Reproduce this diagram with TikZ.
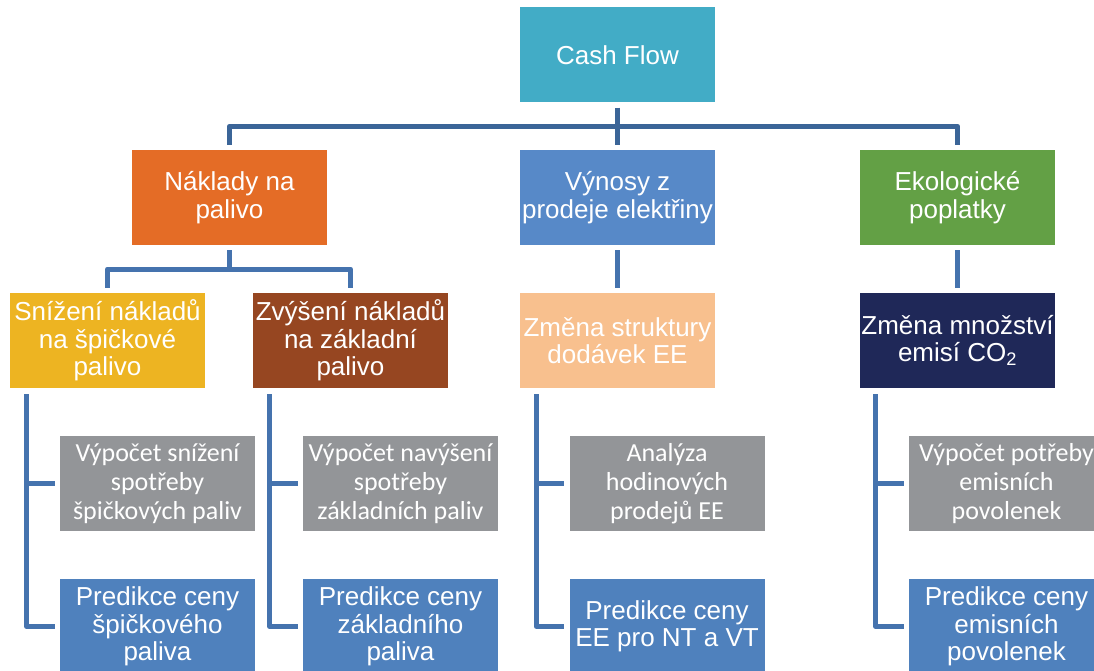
\documentclass[tikz,border=0pt]{standalone}
\usepackage{fontspec}
\setmainfont{Liberation Sans}
\newfontfamily\calfont{Carlito}
\usetikzlibrary{calc}
\definecolor{cfc}{HTML}{42ACC6}
\definecolor{nakc}{HTML}{E46C26}
\definecolor{vync}{HTML}{5789C8}
\definecolor{ekoc}{HTML}{63A045}
\definecolor{snizc}{HTML}{EDB422}
\definecolor{zvysc}{HTML}{964621}
\definecolor{strc}{HTML}{F8C08E}
\definecolor{emic}{HTML}{1F2858}
\definecolor{greyc}{HTML}{939598}
\definecolor{predc}{HTML}{4F81BD}
\definecolor{toplinec}{HTML}{3B6598}
\definecolor{linec}{HTML}{4573AE}
\tikzset{
  box/.style={rectangle, minimum width=195pt, minimum height=95pt, inner sep=0pt,
    text=white, align=center, font=\fontsize{26}{27.5}\selectfont},
  greybox/.style={box, fill=greyc, font=\calfont\fontsize{26}{29}\selectfont},
  predbox/.style={box, fill=predc},
  toplink/.style={draw=toplinec, line width=5pt, line join=round},
  link/.style={draw=linec, line width=5pt, line join=round},
}
\begin{document}
\begin{tikzpicture}[x=1pt,y=-1pt]
\useasboundingbox (0,0) rectangle (1094,671);
\clip (0,0) rectangle (1094,671);

% top level
\node[box, fill=cfc] (cf) at (617.5,55) {Cash Flow};

% second level
\node[box, fill=nakc] (nak) at (229.5,197.5) {Náklady na\\palivo};
\node[box, fill=vync] (vyn) at (617.5,197.5) {Výnosy z\\prodeje elektřiny};
\node[box, fill=ekoc] (eko) at (957.5,197.5) {Ekologické\\poplatky};

% third level
\node[box, fill=snizc] (sniz) at (107.5,340.5) {Snížení nákladů\\na špičkové\\palivo};
\node[box, fill=zvysc] (zvys) at (350.5,340.5) {Zvýšení nákladů\\na základní\\palivo};
\node[box, fill=strc] (str) at (617.5,340.5) {Změna struktury\\dodávek EE};
\node[box, fill=emic] (emi) at (957.5,340.5) {Změna množství\\emisí CO\textsubscript{2}};

% calculation steps
\node[greybox] (g1) at (157.5,483.5) {Výpočet snížení\\spotřeby\\špičkových paliv};
\node[greybox] (g2) at (400.5,483.5) {Výpočet navýšení\\spotřeby\\základních paliv};
\node[greybox] (g3) at (667,483.5) {Analýza\\hodinových\\prodejů EE};
\node[greybox] (g4) at (1006.5,483.5) {Výpočet potřeby\\emisních\\povolenek};

% price predictions
\node[predbox] (p1) at (157.5,626.5) {Predikce ceny\\špičkového\\paliva};
\node[predbox] (p2) at (400.5,626.5) {Predikce ceny\\základního\\paliva};
\node[predbox] (p3) at (667,626.5) {Predikce ceny\\EE pro NT a VT};
\node[predbox] (p4) at (1006.5,626.5) {Predikce ceny\\emisních\\povolenek};

% connectors: top level
\coordinate (bar) at ($(cf.south)!0.5!(vyn.north)$);
\draw[toplink] ([yshift=-5pt]cf.south) -- ([yshift=5pt]vyn.north);
\draw[toplink] ([yshift=5pt]nak.north) |- (bar) -| ([yshift=5pt]eko.north);

% connectors: second level
\coordinate (nbar) at ($(nak.south)!0.5!(nak.south |- sniz.north)$);
\draw[link] ([yshift=-5pt]nak.south) -- (nbar);
\draw[link] ([yshift=5pt]sniz.north) |- (nbar) -| ([yshift=5pt]zvys.north);
\draw[link] ([yshift=-5pt]vyn.south) -- ([yshift=5pt]str.north);
\draw[link] ([yshift=-5pt]eko.south) -- ([yshift=5pt]emi.north);

% connectors: third level spines
\foreach \parent/\g/\p in {sniz/g1/p1, zvys/g2/p2, str/g3/p3, emi/g4/p4}{
  \coordinate (sp-\g) at ([xshift=-33pt]\g.west |- \parent.south);
  \draw[link] ([yshift=-6pt]sp-\g) |- ([xshift=-5pt]\p.west);
  \draw[link] (sp-\g |- \g.west) -- ([xshift=-5pt]\g.west);
}
\end{tikzpicture}
\end{document}
